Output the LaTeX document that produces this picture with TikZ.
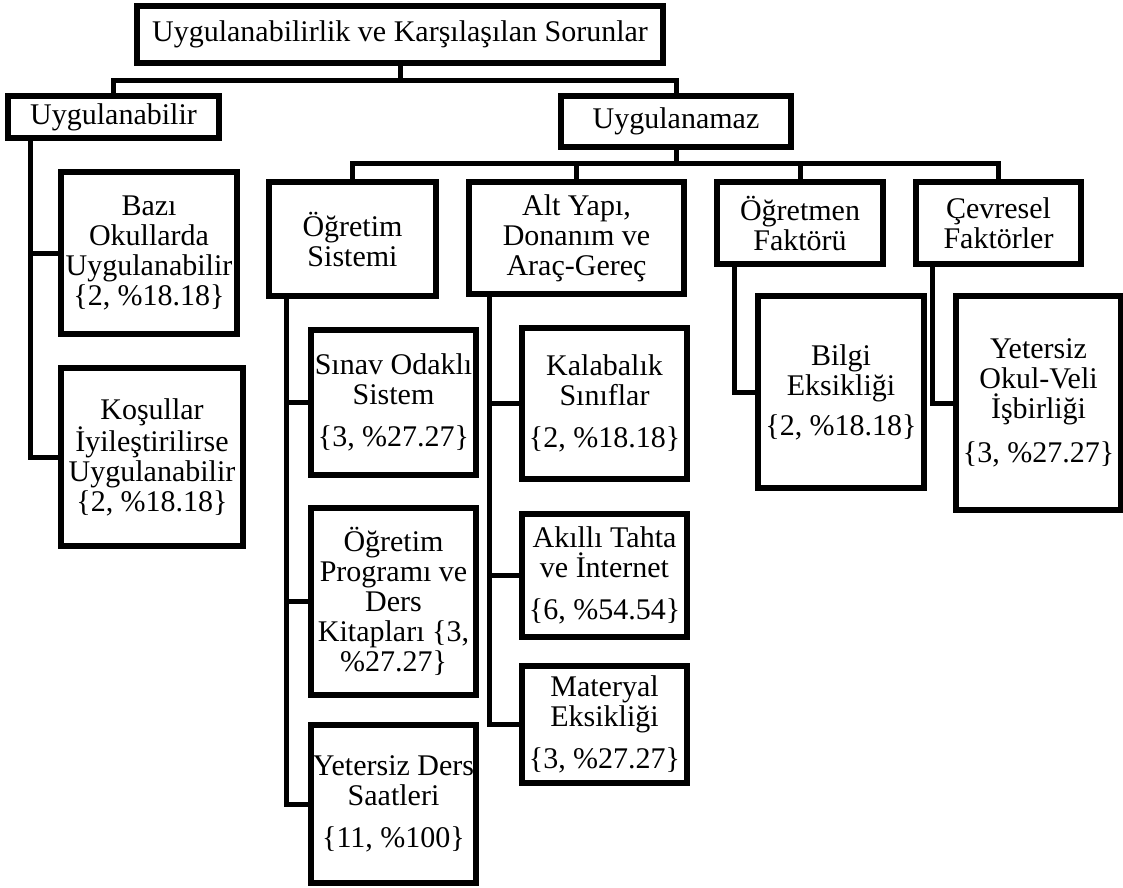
\documentclass[tikz,border=0pt]{standalone}
\usepackage{fontspec}
\setmainfont{Liberation Serif}

\begin{document}
\begin{tikzpicture}[x=1pt, y=-1pt,
  kutu/.style={draw, line width=5.2pt, align=center, inner sep=0pt,
    font=\fontsize{30}{30}\selectfont},
  bag/.style={line width=5pt}]

\useasboundingbox (0,0) rectangle (1123,887);

% ust seviye
\node[kutu, minimum width=526pt, minimum height=57pt] (baslik) at (400,34.5) {Uygulanabilirlik ve Karşılaşılan Sorunlar};

\node[kutu, minimum width=211pt, minimum height=42pt] (uyg) at (113.5,117) {Uygulanabilir};
\node[kutu, minimum width=230pt, minimum height=51pt] (uygz) at (676,121.5) {Uygulanamaz};

\draw[bag] (baslik.south) -- ++(0,15) -| (uyg.north);
\draw[bag] (baslik.south) -- ++(0,15) -| (uygz.north);

% uygulanabilir
\node[kutu, minimum width=176pt, minimum height=162pt] (bazi) at (149,253) {Bazı\\Okullarda\\Uygulanabilir\\\{2, \%18.18\}};
\node[kutu, minimum width=182pt, minimum height=178pt] (kosul) at (152,457) {Koşullar\\İyileştirilirse\\Uygulanabilir\\\{2, \%18.18\}};

\draw[bag] ([xshift=25pt]uyg.south west) |- (bazi.west);
\draw[bag] ([xshift=25pt]uyg.south west) |- (kosul.west);

% uygulanamaz
\node[kutu, minimum width=167pt, minimum height=114pt] (ogrsis) at (352.5,239) {Öğretim\\Sistemi};
\node[kutu, minimum width=215pt, minimum height=112pt] (altyapi) at (576.5,238) {Alt Yapı,\\Donanım ve\\Araç-Gereç};
\node[kutu, minimum width=166pt, minimum height=82pt] (ogrmen) at (800,223) {Öğretmen\\Faktörü};
\node[kutu, minimum width=165pt, minimum height=82pt] (cevre) at (998.5,223) {Çevresel\\Faktörler};

\draw[bag] (uygz.south) -- ++(0,14) -| (ogrsis.north);
\draw[bag] (uygz.south) -- ++(0,14) -| (altyapi.north);
\draw[bag] (uygz.south) -- ++(0,14) -| (ogrmen.north);
\draw[bag] (uygz.south) -- ++(0,14) -| (cevre.north);

% ogretim sistemi
\node[kutu, minimum width=165pt, minimum height=145pt] (sinav) at (393.5,402.5) {Sınav Odaklı\\Sistem\\[12pt]\{3, \%27.27\}};
\node[kutu, minimum width=165pt, minimum height=187pt] (program) at (393.5,601.5) {Öğretim\\Programı ve\\Ders\\Kitapları \{3,\\\%27.27\}};
\node[kutu, minimum width=165pt, minimum height=158pt] (saat) at (393.5,804) {Yetersiz Ders\\Saatleri\\[12pt]\{11, \%100\}};

\draw[bag] ([xshift=20pt]ogrsis.south west) |- (sinav.west);
\draw[bag] ([xshift=20pt]ogrsis.south west) |- (program.west);
\draw[bag] ([xshift=20pt]ogrsis.south west) |- (saat.west);

% alt yapi
\node[kutu, minimum width=165pt, minimum height=151pt] (kalaba) at (604.5,403.5) {Kalabalık\\Sınıflar\\[12pt]\{2, \%18.18\}};
\node[kutu, minimum width=165pt, minimum height=123pt] (akilli) at (604.5,575.5) {Akıllı Tahta\\ve İnternet\\[12pt]\{6, \%54.54\}};
\node[kutu, minimum width=165pt, minimum height=117pt] (materyal) at (604.5,724.5) {Materyal\\Eksikliği\\[12pt]\{3, \%27.27\}};

\draw[bag] ([xshift=23pt]altyapi.south west) |- (kalaba.west);
\draw[bag] ([xshift=23pt]altyapi.south west) |- (akilli.west);
\draw[bag] ([xshift=23pt]altyapi.south west) |- (materyal.west);

% ogretmen ve cevre
\node[kutu, minimum width=166pt, minimum height=192pt] (bilgi) at (841,392) {Bilgi\\Eksikliği\\[10pt]\{2, \%18.18\}};
\node[kutu, minimum width=165pt, minimum height=214pt] (isbirligi) at (1038.5,403) {Yetersiz\\Okul-Veli\\İşbirliği\\[14pt]\{3, \%27.27\}};

\draw[bag] ([xshift=20pt]ogrmen.south west) |- (bilgi.west);
\draw[bag] ([xshift=19pt]cevre.south west) |- (isbirligi.west);

\end{tikzpicture}
\end{document}
